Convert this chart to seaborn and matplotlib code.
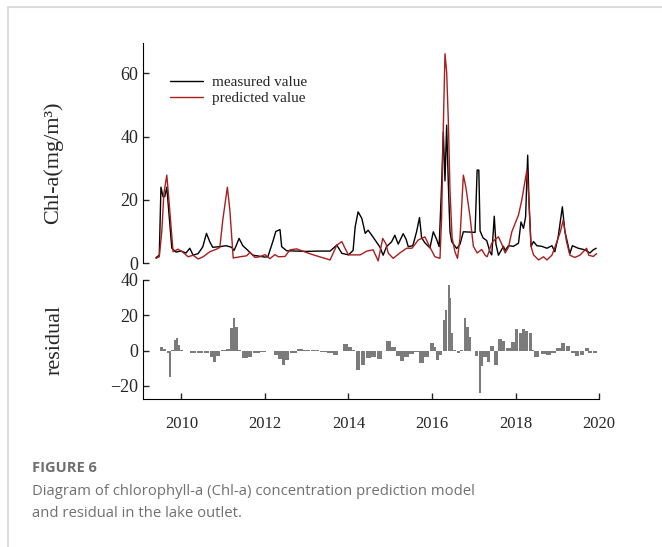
import numpy as np
import pandas as pd
import matplotlib
matplotlib.use('Agg')
import matplotlib.pyplot as plt
from matplotlib.lines import Line2D
import seaborn as sns

# decimal years
meas_t = [2009.39, 2009.47, 2009.51, 2009.56, 2009.60, 2009.65, 2009.77, 2009.87, 2009.99, 2010.11,
          2010.20, 2010.28, 2010.40, 2010.51, 2010.60, 2010.68, 2010.75, 2010.92, 2011.07, 2011.20,
          2011.26, 2011.31, 2011.38, 2011.47, 2011.56, 2011.71, 2011.86, 2012.00, 2012.07, 2012.20,
          2012.26, 2012.36, 2012.40, 2012.52, 2012.76, 2013.00, 2013.27, 2013.56, 2013.72, 2013.84,
          2014.00, 2014.11, 2014.16, 2014.23, 2014.32, 2014.40, 2014.47, 2014.59, 2014.75, 2014.83,
          2014.91, 2015.03, 2015.11, 2015.19, 2015.31, 2015.38, 2015.43, 2015.54, 2015.63, 2015.70,
          2015.75, 2015.83, 2015.95, 2016.03, 2016.11, 2016.17, 2016.23, 2016.27, 2016.31, 2016.35,
          2016.39, 2016.43, 2016.47, 2016.59, 2016.67, 2016.75, 2016.91, 2017.03, 2017.08, 2017.12,
          2017.15, 2017.22, 2017.31, 2017.39, 2017.43, 2017.49, 2017.53, 2017.59, 2017.71, 2017.75,
          2017.83, 2017.95, 2018.07, 2018.13, 2018.19, 2018.24, 2018.29, 2018.32, 2018.37, 2018.43,
          2018.51, 2018.63, 2018.75, 2018.87, 2018.94, 2019.02, 2019.12, 2019.18, 2019.25, 2019.30,
          2019.36, 2019.50, 2019.66, 2019.78, 2019.86, 2019.93]
measured = [1.7, 2.5, 24.0, 21.0, 21.0, 24.0, 4.7, 3.5, 3.8, 3.2,
            4.7, 2.5, 3.0, 5.1, 9.4, 6.7, 5.0, 5.2, 5.5, 5.0,
            4.0, 5.5, 7.8, 5.5, 4.4, 2.5, 2.2, 1.9, 2.0, 7.3,
            10.0, 10.6, 5.2, 3.9, 3.8, 3.7, 3.8, 3.8, 5.7, 3.1,
            2.6, 4.0, 11.5, 16.2, 14.1, 9.4, 10.4, 8.2, 5.1, 2.5,
            5.2, 6.7, 8.8, 6.0, 9.3, 7.5, 5.2, 5.5, 9.9, 14.4,
            8.0, 6.4, 4.8, 9.9, 7.5, 5.2, 25.0, 41.5, 26.0, 43.6,
            25.0, 9.9, 6.8, 4.6, 6.0, 9.9, 9.8, 9.7, 29.4, 29.4,
            10.2, 8.0, 7.1, 3.4, 2.6, 14.8, 6.0, 2.5, 5.3, 4.0,
            5.5, 5.3, 6.3, 13.0, 11.0, 14.6, 34.1, 20.0, 5.3, 6.8,
            5.5, 5.3, 4.7, 5.5, 3.6, 8.3, 17.8, 10.1, 6.0, 3.0,
            5.5, 4.7, 4.2, 3.2, 4.2, 4.7]

pred_t = [2009.39, 2009.47, 2009.53, 2009.58, 2009.65, 2009.70, 2009.80, 2009.92, 2010.04, 2010.16,
          2010.28, 2010.40, 2010.52, 2010.68, 2010.84, 2010.92, 2010.99, 2011.10, 2011.16, 2011.24,
          2011.40, 2011.56, 2011.64, 2011.76, 2011.88, 2012.00, 2012.12, 2012.24, 2012.32, 2012.48,
          2012.60, 2012.76, 2012.92, 2013.16, 2013.36, 2013.56, 2013.72, 2013.84, 2013.92, 2014.00,
          2014.28, 2014.44, 2014.59, 2014.71, 2014.82, 2014.90, 2014.95, 2015.07, 2015.23, 2015.39,
          2015.52, 2015.67, 2015.83, 2015.95, 2016.07, 2016.19, 2016.23, 2016.27, 2016.31, 2016.35,
          2016.39, 2016.43, 2016.48, 2016.55, 2016.61, 2016.67, 2016.75, 2016.81, 2016.91, 2016.99,
          2017.08, 2017.19, 2017.27, 2017.32, 2017.43, 2017.51, 2017.59, 2017.67, 2017.75, 2017.83,
          2017.91, 2018.07, 2018.15, 2018.27, 2018.31, 2018.37, 2018.43, 2018.55, 2018.67, 2018.75,
          2018.87, 2018.95, 2019.07, 2019.14, 2019.22, 2019.30, 2019.42, 2019.54, 2019.70, 2019.75,
          2019.86, 2019.94]
predicted = [1.5, 2.0, 10.0, 22.0, 27.8, 20.0, 3.6, 4.4, 3.4, 2.0,
             2.5, 1.3, 2.0, 3.6, 4.4, 5.0, 13.6, 24.0, 16.7, 1.6,
             2.0, 2.3, 3.4, 1.8, 2.0, 2.7, 1.4, 2.7, 2.0, 2.1,
             4.2, 4.5, 3.7, 2.6, 1.8, 1.0, 5.7, 6.8, 4.6, 2.6,
             2.6, 3.8, 4.2, 0.7, 7.8, 6.0, 3.2, 1.5, 3.2, 4.7,
             4.7, 7.3, 8.3, 5.0, 2.0, 1.5, 14.6, 43.0, 66.2, 60.4,
             45.0, 23.0, 8.0, 3.5, 1.5, 8.0, 27.8, 24.0, 14.6, 5.3,
             3.2, 4.3, 2.5, 2.0, 6.3, 7.5, 8.3, 6.0, 3.2, 5.0,
             9.9, 15.2, 20.0, 29.4, 22.0, 5.3, 2.6, 1.0, 2.0, 1.0,
             2.5, 5.3, 9.8, 13.6, 6.8, 2.5, 1.8, 2.5, 4.7, 2.5,
             2.1, 3.0]

resid_t = [2009.53, 2009.60, 2009.68, 2009.72, 2009.79, 2009.84, 2009.90, 2009.95, 2010.00, 2010.12,
           2010.28, 2010.44, 2010.60, 2010.72, 2010.80, 2010.88, 2011.00, 2011.12, 2011.20, 2011.26,
           2011.32, 2011.40, 2011.48, 2011.56, 2011.64, 2011.80, 2011.96, 2012.12, 2012.28, 2012.36,
           2012.44, 2012.52, 2012.68, 2012.84, 2013.00, 2013.20, 2013.40, 2013.56, 2013.68, 2013.80,
           2013.92, 2014.04, 2014.11, 2014.23, 2014.35, 2014.47, 2014.59, 2014.75, 2014.83, 2014.95,
           2015.07, 2015.19, 2015.27, 2015.39, 2015.51, 2015.63, 2015.75, 2015.87, 2015.99, 2016.07,
           2016.13, 2016.19, 2016.29, 2016.34, 2016.40, 2016.44, 2016.47, 2016.53, 2016.63, 2016.71,
           2016.79, 2016.85, 2016.91, 2016.99, 2017.07, 2017.15, 2017.19, 2017.27, 2017.35, 2017.43,
           2017.53, 2017.63, 2017.71, 2017.83, 2017.95, 2018.03, 2018.11, 2018.19, 2018.27, 2018.35,
           2018.41, 2018.51, 2018.67, 2018.79, 2018.91, 2019.03, 2019.14, 2019.26, 2019.37, 2019.47,
           2019.59, 2019.71, 2019.78, 2019.90]
residual = [1.9, 0.8, -1.5, -14.7, 0.3, 6.0, 7.0, 3.2, 0.2, -0.4,
            -1.1, -1.5, -1.1, -3.4, -6.2, -3.0, 0.4, 0.8, 12.6, 18.3,
            13.6, 0.3, -4.3, -4.0, -3.4, -1.1, -0.6, -0.2, -2.5, -5.0,
            -8.1, -5.3, -1.5, 0.9, 0.4, 0.2, -0.6, -1.5, -2.5, -0.2,
            3.8, 2.3, 0.2, -10.9, -8.1, -4.3, -3.8, -4.9, -0.5, 5.7,
            1.9, -3.0, -5.7, -3.8, -1.9, -0.6, -7.2, -3.8, 4.5, 2.3,
            -5.3, -2.5, 17.4, 23.0, 37.2, 29.6, 9.8, 0.3, -1.1, 0.3,
            18.3, 13.6, 7.9, -0.5, -3.0, -24.2, -9.0, -3.8, -6.2, 2.6,
            -8.1, 6.4, 5.7, 1.3, 5.1, 12.1, 9.8, 12.1, 11.3, 10.2,
            0.3, -3.8, -1.9, -2.5, -1.1, 1.3, 4.5, 2.6, -1.5, -3.0,
            -2.5, 1.3, -1.1, -1.1]

chl_ticks = [0, 20, 40, 60]
res_ticks = [-20, 0, 20, 40]
year_ticks = [2010, 2012, 2014, 2016, 2018, 2020]

sns.set_style('white')
serif = ['Liberation Serif', 'DejaVu Serif']
plt.rcParams['font.family'] = serif

fig = plt.figure(figsize=(6.62, 5.47), dpi=100)
ax1 = fig.add_axes([0.216, 0.519, 0.689, 0.402])
ax2 = fig.add_axes([0.216, 0.2706, 0.689, 0.2176])

df_m = pd.DataFrame({'t': meas_t, 'v': measured})
df_p = pd.DataFrame({'t': pred_t, 'v': predicted})
sns.lineplot(data=df_m, x='t', y='v', ax=ax1, color='black', lw=1.0, label='measured value')
sns.lineplot(data=df_p, x='t', y='v', ax=ax1, color='#a81e1e', lw=1.0, label='predicted value')

ax1.set_xlim(2009.08, 2020.0)
ax1.set_ylim(0, 69.5)
ax1.set_yticks(chl_ticks)
ax1.set_xticks([])
ax1.set_xlabel('')
for s in ['top', 'right', 'bottom']:
    ax1.spines[s].set_visible(False)
ax1.spines['left'].set_color('black')
ax1.tick_params(axis='y', direction='in', length=4, width=1, labelsize=13, left=True)
ax1.set_ylabel('Chl-a(mg/m³)', fontsize=16)
ax1.yaxis.set_label_coords(-0.175, 0.455)
ax1.legend(loc='upper left', bbox_to_anchor=(0.03, 0.915), frameon=False, fontsize=11,
           handlelength=2.1, labelspacing=0.15, handletextpad=0.6)

# bars as wide as the local spacing, so the residual reads as a filled band
bar_w = np.gradient(np.array(resid_t)) * 0.95
ax2.bar(resid_t, residual, width=bar_w, color='#7b7b7b', edgecolor='none')
ax2.set_xlim(2009.08, 2020.0)
ax2.set_ylim(-27.4, 40)
ax2.set_yticks(res_ticks)
ax2.set_xticks(year_ticks)
ax2.set_xticklabels([str(y) for y in year_ticks])
for s in ['top', 'right']:
    ax2.spines[s].set_visible(False)
ax2.spines['left'].set_color('black')
ax2.spines['bottom'].set_color('black')
ax2.tick_params(axis='y', direction='in', length=4, width=1, labelsize=13, left=True)
ax2.tick_params(axis='x', direction='in', length=4, width=1, labelsize=12, bottom=True, pad=12)
ax2.set_ylabel('residual', fontsize=16)
ax2.yaxis.set_label_coords(-0.171, 0.5)

# outer frame of the figure card
fig.add_artist(Line2D([0.012, 1.0], [0.987, 0.987], color='#dcdcdc', lw=1.5))
fig.add_artist(Line2D([0.012, 0.012], [0.0, 0.987], color='#dcdcdc', lw=1.5))

cap = ['Open Sans', 'DejaVu Sans']
fig.text(0.048, 0.137, 'FIGURE 6', family=cap, fontsize=10.5, fontweight='bold', color='#6e6e6e')
fig.text(0.048, 0.095, 'Diagram of chlorophyll-a (Chl-a) concentration prediction model',
         family=cap, fontsize=10.7, color='#707070')
fig.text(0.048, 0.055, 'and residual in the lake outlet.', family=cap, fontsize=10.7, color='#707070')

fig.savefig('out.png', dpi=100)
